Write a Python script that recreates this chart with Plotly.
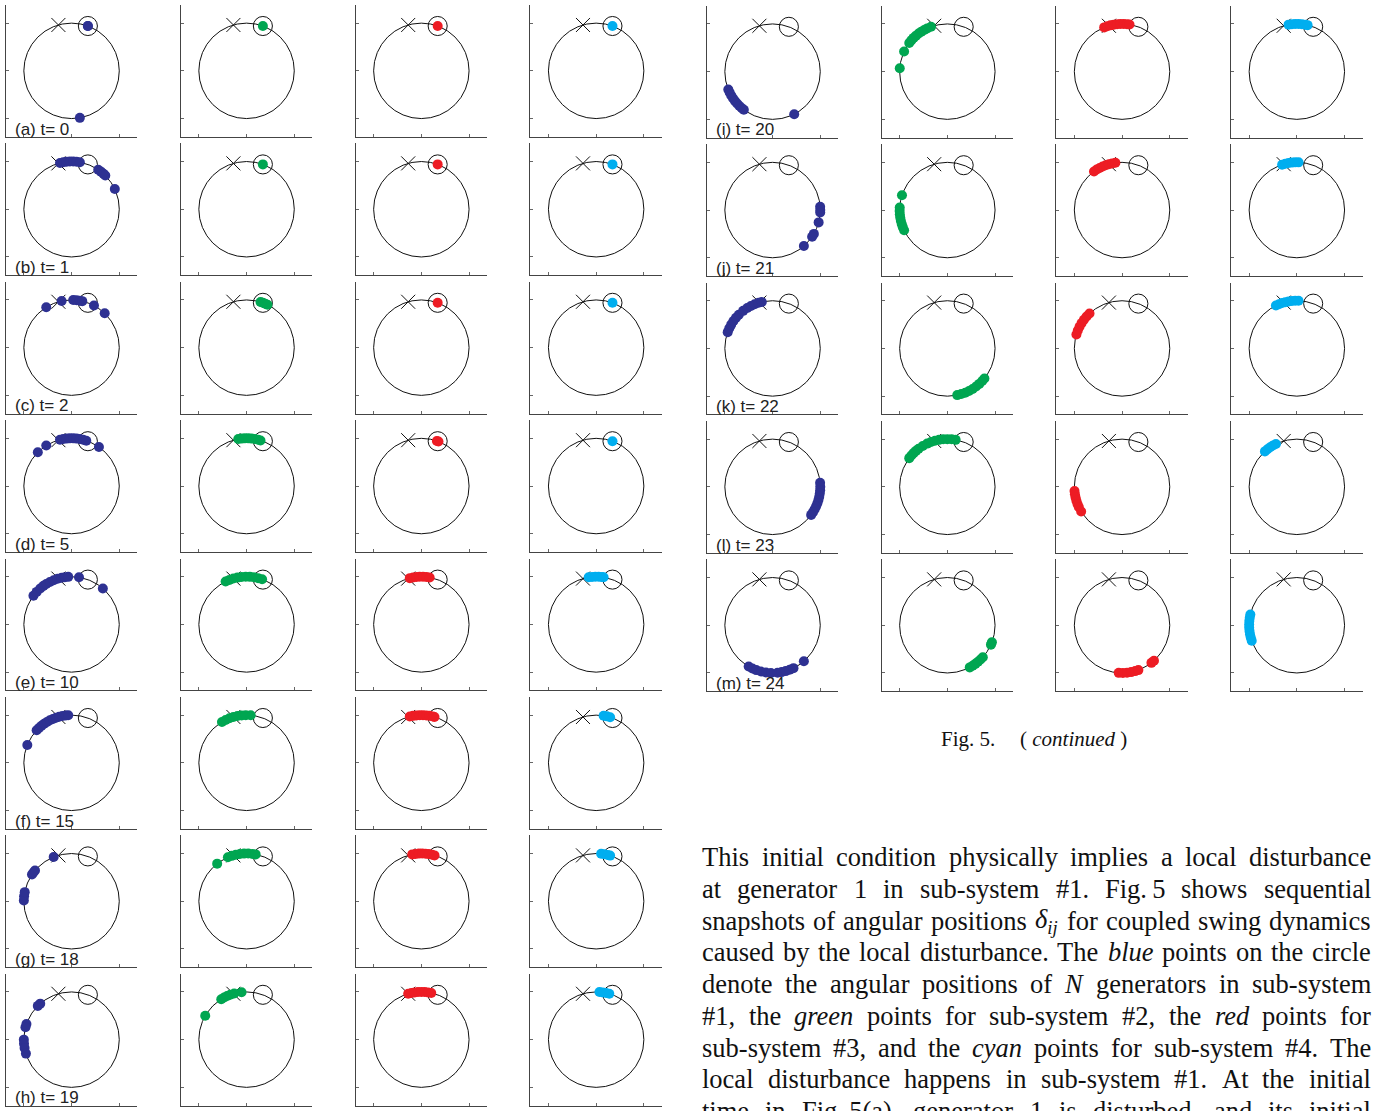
import math
import plotly.graph_objects as go

# ---------------- data: angular positions (degrees) of generators ----------------
LABELS_LEFT = ["(a) t= 0", "(b) t= 1", "(c) t= 2", "(d) t= 5",
               "(e) t= 10", "(f) t= 15", "(g) t= 18", "(h) t= 19"]
LABELS_RIGHT = ["(i) t= 20", "(j) t= 21", "(k) t= 22", "(l) t= 23", "(m) t= 24"]

A_BLUE = [70, 70, -80]
A_GREEN = [70]
A_RED = [70]
A_CYAN = [70]

B_BLUE = [104, 100, 96, 92, 88, 84, 80, 56, 52, 48, 45, 25]
B_GREEN = [70]
B_RED = [70]
B_CYAN = [70]

C_BLUE = [122, 102, 88, 84, 80, 77, 62, 46]
C_GREEN = [73, 70, 67, 64]
C_RED = [70]
C_CYAN = [70]

D_BLUE = [135, 122, 104, 100, 96, 92, 88, 84, 80, 76, 72, 55]
D_GREEN = [100, 96, 92, 88, 84, 80, 76, 73]
D_RED = [71, 69]
D_CYAN = [70]

E_BLUE = [143, 137, 131, 126, 122, 117, 112, 107, 102, 98, 94, 81, 49]
E_GREEN = [116, 111, 106, 101, 96, 91, 86, 81, 76, 71]
E_RED = [104, 100, 96, 92, 88, 84, 80]
E_CYAN = [99, 95, 91, 87, 83, 81]

F_BLUE = [158, 137, 133, 129, 125, 121, 117, 113, 109, 105, 101, 97, 94]
F_GREEN = [121, 116, 111, 106, 101, 96, 91, 85]
F_RED = [104, 100, 96, 92, 88, 84, 80, 76, 74]
F_CYAN = [81, 77, 73]

G_BLUE = [179, 174, 169, 146, 143, 140, 112]
G_GREEN = [128, 113, 108, 103, 98, 93, 88, 83, 79]
G_RED = [101, 97, 93, 89, 85, 81, 77, 74]
G_CYAN = [84, 80, 76, 73]

H_BLUE = [131, 135, 161, 165, 180, 185, 190, 197]
H_GREEN = [150, 122, 118, 114, 110, 105, 96]
H_RED = [106, 102, 98, 94, 90, 86, 82, 78]
H_CYAN = [86, 82, 78, 74]

I_BLUE = [202, 206, 210, 214, 218, 222, 226, 230, 233, 297]
I_GREEN = [176, 155, 143, 139, 135, 131, 127, 123, 119, 115, 110]
I_RED = [112, 108, 104, 100, 96, 92, 88, 84, 81]
I_CYAN = [100, 96, 92, 88, 84, 80, 77]

J_BLUE = [4, 0, -3, -15, -30, -34, -49]
J_GREEN = [162, 177, 181, 185, 189, 193, 197, 201, 205]
J_RED = [126, 122, 118, 114, 110, 106, 102, 98]
J_CYAN = [108, 104, 100, 96, 92, 88]

K_BLUE = [160, 155, 150, 145, 140, 135, 128, 122, 117, 112, 107, 103]
K_GREEN = [-78, -73, -68, -63, -58, -53, -48, -43, -39]
K_RED = [163, 158, 153, 148, 143, 138, 133]
K_CYAN = [116, 112, 108, 104, 100, 96, 92, 88]

L_BLUE = [5, 0, -4, -8, -12, -16, -20, -24, -28, -32, -36]
L_GREEN = [143, 139, 135, 131, 127, 121, 115, 110, 105, 100, 95, 90, 85, 80]
L_RED = [185, 189, 193, 197, 201, 205, 211]
L_CYAN = [132, 128, 124, 120, 116]

M_BLUE = [240, 245, 250, 256, 262, 268, 276, 281, 286, 291, 296, 311]
M_GREEN = [298, 302, 306, 310, 314, 318, 336, 339]
M_RED = [266, 271, 276, 281, 286, 290, 308, 312]
M_CYAN = [167, 171, 175, 179, 183, 187, 191, 195, 199]

LEFT_ROWS = [(A_BLUE, A_GREEN, A_RED, A_CYAN), (B_BLUE, B_GREEN, B_RED, B_CYAN),
             (C_BLUE, C_GREEN, C_RED, C_CYAN), (D_BLUE, D_GREEN, D_RED, D_CYAN),
             (E_BLUE, E_GREEN, E_RED, E_CYAN), (F_BLUE, F_GREEN, F_RED, F_CYAN),
             (G_BLUE, G_GREEN, G_RED, G_CYAN), (H_BLUE, H_GREEN, H_RED, H_CYAN)]
RIGHT_ROWS = [(I_BLUE, I_GREEN, I_RED, I_CYAN), (J_BLUE, J_GREEN, J_RED, J_CYAN),
              (K_BLUE, K_GREEN, K_RED, K_CYAN), (L_BLUE, L_GREEN, L_RED, L_CYAN),
              (M_BLUE, M_GREEN, M_RED, M_CYAN)]

COLORS = ["#2E3192", "#00A651", "#ED1C24", "#00AEEF"]
X_ANGLE = 106          # disturbed reference marked by a cross
REF_ANGLE = 70         # reference marked by a small circle
REF_RADIUS = 0.2

BODY_LINES = [
    "This initial condition physically implies a local disturbance",
    "at generator 1 in sub-system #1. Fig.\u20095 shows sequential",
    "snapshots of angular positions <i>\u03b4</i><sub><i>ij</i></sub> for coupled swing dynamics",
    "caused by the local disturbance. The <i>blue</i> points on the circle",
    "denote the angular positions of <i>N</i> generators in sub-system",
    "#1, the <i>green</i> points for sub-system #2, the <i>red</i> points for",
    "sub-system #3, and the <i>cyan</i> points for sub-system #4. The",
    "local disturbance happens in sub-system #1. At the initial",
    "time in Fig.\u20095(a), generator 1 is disturbed, and its initial",
]

# ---------------- layout geometry ----------------
W, H = 1374, 1111
PANEL = 131.7
RNG = 1.38
LEFT_COLS = [5.7, 180.7, 355.5, 530.3]
RIGHT_COLS = [706.7, 881.5, 1056.2, 1231.0]
ROW_BOTTOM = [136.7 + 138.4 * r for r in range(8)]

fig = go.Figure()
layout = dict(width=W, height=H, margin=dict(l=0, r=0, t=0, b=0),
              paper_bgcolor="white", plot_bgcolor="white", showlegend=False)
shapes, annotations = [], []

axis_style = dict(range=[-RNG, RNG], showgrid=False, zeroline=False, showticklabels=False,
                  ticks="inside", ticklen=3, tickwidth=1, tickcolor="#666",
                  tickvals=[-1, 0, 1], showline=True, linecolor="#444", linewidth=1,
                  fixedrange=True)


def rad(a):
    return math.radians(a)


panels = []
for r, row in enumerate(LEFT_ROWS):
    for c in range(4):
        panels.append((LEFT_COLS[c], ROW_BOTTOM[r], row[c], c, LABELS_LEFT[r] if c == 0 else None))
for r, row in enumerate(RIGHT_ROWS):
    for c in range(4):
        panels.append((RIGHT_COLS[c], ROW_BOTTOM[r] + 0.8, row[c], c, LABELS_RIGHT[r] if c == 0 else None))

for k, (left, bottom, angles, c, label) in enumerate(panels, start=1):
    sfx = "" if k == 1 else str(k)
    xa, ya = "x" + sfx, "y" + sfx
    layout["xaxis" + sfx] = dict(axis_style, domain=[left / W, (left + PANEL) / W], anchor=ya)
    layout["yaxis" + sfx] = dict(axis_style, domain=[1 - bottom / H, 1 - (bottom - PANEL) / H], anchor=xa)
    shapes.append(dict(type="circle", xref=xa, yref=ya, x0=-1, y0=-1, x1=1, y1=1,
                       line=dict(color="#111", width=1), layer="below"))
    cx, cy = math.cos(rad(REF_ANGLE)), math.sin(rad(REF_ANGLE))
    shapes.append(dict(type="circle", xref=xa, yref=ya,
                       x0=cx - REF_RADIUS, y0=cy - REF_RADIUS, x1=cx + REF_RADIUS, y1=cy + REF_RADIUS,
                       line=dict(color="#111", width=1), layer="below"))
    fig.add_trace(go.Scatter(x=[math.cos(rad(X_ANGLE))], y=[math.sin(rad(X_ANGLE))],
                             mode="markers", xaxis=xa, yaxis=ya, hoverinfo="skip",
                             marker=dict(symbol="x-thin", size=14, line=dict(width=1, color="#111"))))
    fig.add_trace(go.Scatter(x=[math.cos(rad(a)) for a in angles], y=[math.sin(rad(a)) for a in angles],
                             mode="markers", xaxis=xa, yaxis=ya,
                             marker=dict(size=10, color=COLORS[c], line=dict(width=0))))
    if label:
        annotations.append(dict(text=label, xref=xa, yref=ya, x=-1.21, y=-1.22,
                                xanchor="left", yanchor="middle", showarrow=False, borderpad=0,
                                font=dict(family="Liberation Sans, Arial", size=17, color="#222")))

# ---------------- caption ----------------
annotations.append(dict(text="Fig. 5.", xref="paper", yref="paper", x=940 / W, y=1 - 739 / H,
                        xanchor="left", yanchor="middle", showarrow=False, borderpad=0,
                        font=dict(family="Liberation Serif, Times New Roman", size=21, color="#111")))
annotations.append(dict(text="( <i>continued</i> )", xref="paper", yref="paper", x=1019 / W, y=1 - 739 / H,
                        xanchor="left", yanchor="middle", showarrow=False, borderpad=0,
                        font=dict(family="Liberation Serif, Times New Roman", size=21, color="#111")))

# ---------------- justified body text ----------------
TIMES = {}
for chars, w in [("bdghknopquvxy0123456789#$*", 500), ("acez?", 444), ("s", 389), ("J", 389),
                 ("fr()-'I!", 333), ("ijlt/:;", 278), (" ,.", 250), ("wADGHKNOQUVXY", 722),
                 ("m&", 778), ("BCR", 667), ("ELTZ", 611), ("FPS", 556), ("M", 889), ("W", 944),
                 ("=+<>", 564), ("%", 833), ("\u2009", 167), ("\u03b4", 500)]:
    for ch in chars:
        TIMES[ch] = w


def plain(s):
    out, sub, i = [], False, 0
    while i < len(s):
        if s[i] == "<":
            j = s.index(">", i)
            tag = s[i:j + 1]
            if tag == "<sub>":
                sub = True
            elif tag == "</sub>":
                sub = False
            i = j + 1
            continue
        out.append((s[i], sub))
        i += 1
    return out


def word_width(wd, fs):
    return sum(TIMES.get(ch, 500) * (0.7 if sb else 1.0) for ch, sb in plain(wd)) * fs / 1000.0


FS = 26.5
X0, X1 = 701, 1370
LINE_Y0, LINE_DY = 857, 31.75
for li, line in enumerate(BODY_LINES):
    words = line.split(" ")
    widths = [word_width(w, FS) for w in words]
    gap = (X1 - X0 - sum(widths)) / (len(words) - 1)
    x = X0
    yline = LINE_Y0 + li * LINE_DY
    for w, wd in zip(words, widths):
        annotations.append(dict(text=w, xref="paper", yref="paper", x=x / W, y=1 - yline / H,
                                xanchor="left", yanchor="middle", showarrow=False, borderpad=0,
                                font=dict(family="Liberation Serif, Times New Roman", size=FS, color="#111")))
        x += wd + gap

layout["shapes"] = shapes
layout["annotations"] = annotations
fig.update_layout(**layout)
fig.write_html("out.html", config={"displayModeBar": False},
               post_script="document.body.style.margin='0';document.body.style.overflow='hidden';")
